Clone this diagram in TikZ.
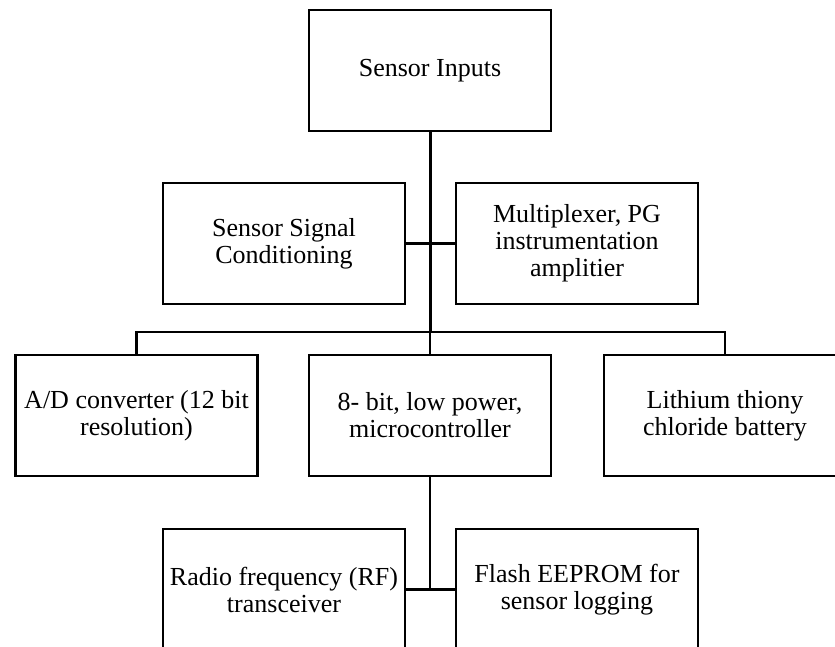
\documentclass[tikz,border=0pt]{standalone}
\usepackage{fontspec}
\setmainfont{Liberation Serif}
\begin{document}
\begin{tikzpicture}[x=1pt,y=1pt,
  blk/.style={draw=black,line width=2.6pt,fill=white,inner sep=0pt,
    minimum width=242pt,minimum height=121pt,align=center,
    font=\fontsize{26}{27}\selectfont},
  trunk/.style={line width=3pt},
  conn/.style={line width=2.4pt}]
\useasboundingbox (0,0) rectangle (835,-647);
\clip (0,0) rectangle (835,-647);
\fill[white] (0,0) rectangle (835,-647);
% nodes
\node[blk] (inputs) at (430,-70.5) {Sensor Inputs};
\node[blk] (ssc) at (284,-243.5) {Sensor Signal\\Conditioning};
\node[blk] (mux) at (577,-243.5) {Multiplexer, PG\\instrumentation\\amplitier};
\node[blk] (ad) at (136.5,-415.5) {A/D converter (12 bit\\resolution)};
\node[blk] (mcu) at (430,-415.5) {8- bit, low power,\\microcontroller};
\node[blk] (bat) at (725,-415.5) {Lithium thiony\\chloride battery};
\node[blk] (rf) at (284,-589.5) {Radio frequency (RF)\\transceiver};
\node[blk] (flash) at (577,-589.5) {Flash EEPROM for\\sensor logging};
\coordinate (bus) at (430,-332);
% connectors
\draw[trunk] (inputs.south) -- (bus);
\draw[conn] (ssc.east) -- (mux.west);
\draw[conn] (ad.north) |- (bus) -| (bat.north);
\draw[conn] (bus) -- (mcu.north);
\draw[conn] (mcu.south) -- (mcu.south |- rf.east);
\draw[conn] (rf.east) -- (flash.west);
\end{tikzpicture}
\end{document}
